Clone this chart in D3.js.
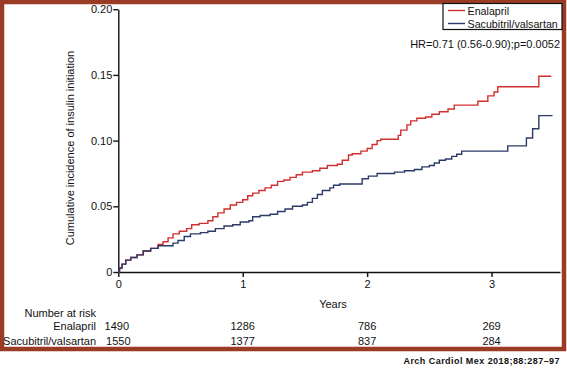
<!DOCTYPE html>
<html><head><meta charset="utf-8">
<script src="https://cdn.jsdelivr.net/npm/d3@7"></script>
<style>body{margin:0;background:#fff}svg{display:block}text{font-family:"Liberation Sans",Arial,sans-serif;fill:#111}</style>
</head><body><svg id="c" width="567" height="373"></svg>
<script>
const seriesNames = ["Enalapril", "Sacubitril/valsartan"];
const seriesColors = ["#d2302e", "#2b3a68"];
const enalaprilTimes = [0,0.01,0.03,0.06,0.10,0.15,0.20,0.26,0.32,0.36,0.40,0.44,0.49,0.55,0.59,0.65,0.72,0.76,0.80,0.85,0.90,0.95,1.00,1.04,1.08,1.13,1.18,1.23,1.28,1.33,1.38,1.43,1.48,1.56,1.62,1.68,1.76,1.80,1.85,1.88,1.95,2.00,2.04,2.08,2.11,2.25,2.27,2.32,2.35,2.40,2.47,2.52,2.58,2.65,2.70,2.89,2.97,3.02,3.05,3.38,3.48];
const enalaprilValues = [0,0.003,0.006,0.009,0.011,0.013,0.016,0.018,0.021,0.023,0.026,0.029,0.031,0.033,0.036,0.037,0.039,0.042,0.045,0.048,0.051,0.053,0.055,0.058,0.060,0.062,0.064,0.066,0.069,0.070,0.072,0.074,0.076,0.077,0.079,0.081,0.082,0.085,0.089,0.090,0.092,0.094,0.097,0.100,0.101,0.104,0.108,0.112,0.115,0.117,0.118,0.120,0.122,0.124,0.127,0.130,0.134,0.137,0.141,0.149,0.149];
const sacubitrilTimes = [0,0.01,0.03,0.06,0.10,0.15,0.20,0.26,0.32,0.40,0.44,0.48,0.53,0.58,0.66,0.72,0.78,0.85,0.92,0.98,1.05,1.08,1.14,1.22,1.28,1.34,1.40,1.48,1.52,1.56,1.60,1.64,1.70,1.73,1.78,1.96,2.01,2.08,2.22,2.30,2.38,2.44,2.50,2.54,2.58,2.63,2.68,2.72,2.76,3.13,3.28,3.33,3.38,3.49];
const sacubitrilValues = [0,0.003,0.006,0.009,0.011,0.013,0.016,0.018,0.020,0.020,0.022,0.024,0.027,0.029,0.030,0.031,0.033,0.035,0.036,0.038,0.039,0.042,0.043,0.044,0.046,0.048,0.050,0.051,0.053,0.056,0.059,0.062,0.064,0.066,0.067,0.071,0.073,0.075,0.076,0.077,0.078,0.080,0.081,0.083,0.085,0.086,0.088,0.0896,0.092,0.096,0.102,0.109,0.119,0.119];
const xTicks = [0,1,2,3];
const yTicks = [0,0.05,0.10,0.15,0.20];
const yTickLabels = ["0","0.05","0.10","0.15","0.20"];
const riskTimes = [0,1,2,3];
const riskEnalapril = [1490,1286,786,269];
const riskSacubitril = [1550,1377,837,284];
const hrText = "HR=0.71 (0.56-0.90);p=0.0052";
const sourceText = "Arch Cardiol Mex 2018;88:287\u201397";

const svg = d3.select("#c");
const x = d3.scaleLinear().domain([0,3.55]).range([118.3,560]);
const y = d3.scaleLinear().domain([0,0.2]).range([272,9.2]);

// frame
svg.append("rect").attr("x",2).attr("y",2).attr("width",562).attr("height",347)
  .attr("fill","none").attr("stroke","#9a3b25").attr("stroke-width",4.5);

// axes
const yAxis = d3.axisLeft(y).tickValues(yTicks).tickFormat((d,i)=>yTickLabels[i]).tickSize(5).tickSizeOuter(0);
const gy = svg.append("g").attr("transform",`translate(${x(0)},0)`).call(yAxis);
const xAxis = d3.axisBottom(x).tickValues(xTicks).tickFormat(d3.format("d")).tickSize(5).tickSizeOuter(0);
const gx = svg.append("g").attr("transform",`translate(0,${y(0)})`).call(xAxis);
[gx,gy].forEach(g=>{
  g.selectAll("path,line").attr("stroke","#111").attr("stroke-width",1.4);
  g.selectAll("text").attr("font-size",11).attr("font-family","Liberation Sans, Arial, sans-serif").attr("fill","#111");
});
gy.selectAll("text").attr("x",-6);
gx.selectAll("text").attr("y",8);

// curves
const line = d3.line().x(d=>x(d[0])).y(d=>y(d[1])).curve(d3.curveStepAfter);
const sets = [d3.zip(enalaprilTimes,enalaprilValues), d3.zip(sacubitrilTimes,sacubitrilValues)];
sets.forEach((s,i)=>{
  svg.append("path").datum(s).attr("d",line).attr("fill","none")
    .attr("stroke",seriesColors[i]).attr("stroke-width",1.4);
});

// labels
svg.append("text").attr("transform",`translate(74,148) rotate(-90)`).attr("text-anchor","middle")
  .attr("font-size",11).text("Cumulative incidence of insulin initiation");
svg.append("text").attr("x",333).attr("y",308).attr("text-anchor","middle").attr("font-size",11).text("Years");

// legend
svg.append("rect").attr("x",443).attr("y",3.5).attr("width",119).attr("height",26)
  .attr("fill","#fff").attr("stroke","#111").attr("stroke-width",1.2);
seriesNames.forEach((n,i)=>{
  const ly = 10.5 + i*13;
  svg.append("line").attr("x1",448).attr("x2",465).attr("y1",ly).attr("y2",ly)
    .attr("stroke",seriesColors[i]).attr("stroke-width",1.4);
  svg.append("text").attr("x",467.5).attr("y",ly+4).attr("font-size",10.7).text(n);
});
svg.append("text").attr("x",560).attr("y",48).attr("text-anchor","end").attr("font-size",11).text(hrText);

// risk table
svg.append("text").attr("x",96).attr("y",316.5).attr("text-anchor","end").attr("font-size",11).text("Number at risk");
const rows = [riskEnalapril, riskSacubitril];
rows.forEach((r,i)=>{
  const ry = 330 + i*15;
  svg.append("text").attr("x",96).attr("y",ry).attr("text-anchor","end").attr("font-size",11).text(seriesNames[i]);
  r.forEach((v,j)=>{
    svg.append("text").attr("x",x(riskTimes[j]) - (i===0&&j===0?1.5:0)).attr("y",ry).attr("text-anchor","middle")
      .attr("font-size",11).text(v);
  });
});

// source
svg.append("text").attr("x",560).attr("y",364).attr("text-anchor","end").attr("font-size",9)
  .attr("font-weight","bold").attr("letter-spacing",0.45).attr("font-family","DejaVu Sans, sans-serif")
  .attr("fill","#222").text(sourceText);
</script></body></html>
